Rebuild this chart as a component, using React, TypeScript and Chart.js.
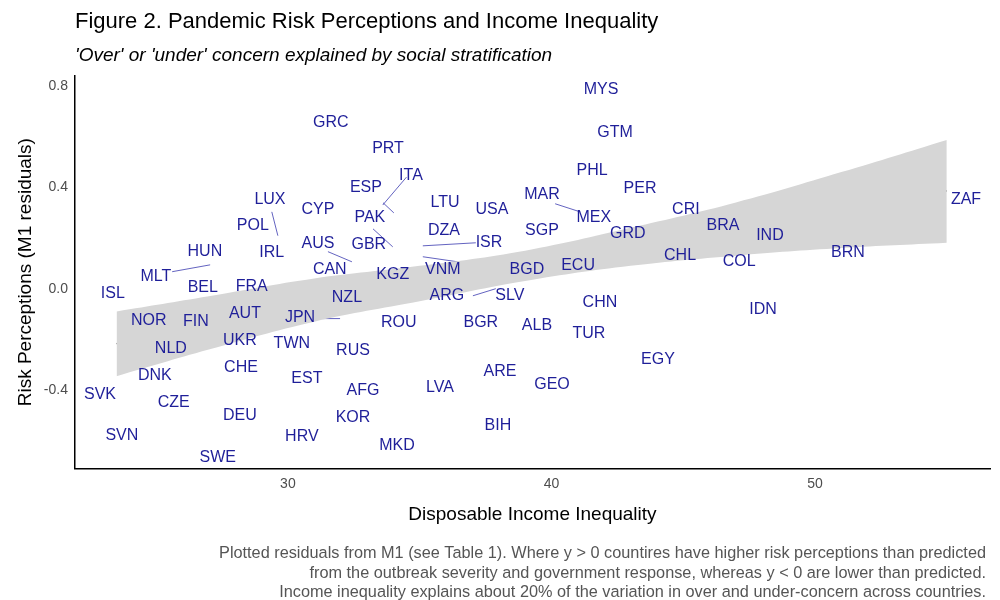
import React, { useEffect, useRef } from "react";
import { Chart, registerables } from "chart.js";
Chart.register(...registerables);

const countries = ["MYS","GRC","PRT","GTM","ITA","PHL","ESP","PER","LUX","MAR","CYP","LTU","USA","MEX","CRI","PAK","POL","DZA","SGP","ZAF","BRA","GRD","IND","AUS","GBR","ISR","IRL","HUN","BRN","CHL","COL","ECU","CAN","VNM","BGD","KGZ","MLT","FRA","BEL","ISL","ARG","SLV","NZL","CHN","IDN","AUT","NOR","FIN","JPN","BGR","ROU","ALB","TUR","UKR","TWN","NLD","RUS","EGY","CHE","ARE","DNK","EST","GEO","LVA","AFG","SVK","CZE","DEU","KOR","BIH","HRV","SVN","MKD","SWE"];
const inequality = [41.88,31.63,33.80,42.41,34.67,41.54,32.96,43.36,29.32,39.64,31.14,35.96,37.74,41.61,45.10,33.11,28.67,35.92,39.64,55.73,46.51,42.90,48.29,31.14,33.07,37.63,29.39,26.85,51.25,44.88,47.12,41.01,31.59,35.88,39.07,33.98,24.99,28.63,26.77,23.36,36.03,38.42,32.24,41.84,48.03,28.37,24.72,26.51,30.46,37.32,34.21,39.45,41.42,28.18,30.15,25.56,32.47,44.04,28.22,38.05,24.95,30.72,40.02,35.77,32.85,22.87,25.67,28.18,32.47,37.97,30.53,23.70,34.14,27.34];
const residuals = [0.787,0.657,0.551,0.614,0.445,0.465,0.398,0.394,0.350,0.370,0.311,0.339,0.311,0.280,0.311,0.280,0.248,0.228,0.228,0.350,0.248,0.217,0.209,0.177,0.173,0.181,0.142,0.146,0.142,0.130,0.106,0.091,0.075,0.075,0.075,0.055,0.047,0.008,0.004,-0.020,-0.028,-0.028,-0.035,-0.055,-0.083,-0.098,-0.126,-0.130,-0.114,-0.134,-0.134,-0.146,-0.177,-0.205,-0.217,-0.236,-0.244,-0.280,-0.311,-0.327,-0.343,-0.354,-0.378,-0.390,-0.402,-0.417,-0.449,-0.500,-0.508,-0.539,-0.583,-0.579,-0.618,-0.665];

const fitX = [23.5, 55.0];
const fitY = [-0.217, 0.386];
const bandX = [23.5, 27, 31, 35, 39, 43, 47, 51, 55];
const bandUpper = [-0.09, -0.03, 0.04, 0.09, 0.15, 0.24, 0.34, 0.46, 0.587];
const bandLower = [-0.345, -0.24, -0.13, -0.05, 0.03, 0.09, 0.13, 0.16, 0.181];
// repel segments: [x1, y1, x2, y2]
const segments = [
  [25.61,0.067,27.05,0.094],[29.39,0.303,29.62,0.209],[33.61,0.339,34.02,0.299],
  [33.23,0.236,33.98,0.165],[31.52,0.146,32.43,0.106],[37.13,0.181,35.12,0.169],
  [35.12,0.126,38.23,0.079],[37.02,-0.028,37.89,0.0],[40.14,0.335,41.09,0.303],
  [31.14,-0.118,31.98,-0.118],[34.50,0.440,33.60,0.330],
];
const xTicks = [30, 40, 50];
const yTicks = [-0.4, 0.0, 0.4, 0.8];

const title = "Figure 2. Pandemic Risk Perceptions and Income Inequality";
const subtitle = "'Over' or 'under' concern explained by social stratification";
const caption = [
  "Plotted residuals from M1 (see Table 1). Where y > 0 countires have higher risk perceptions than predicted",
  "from the outbreak severity and government response, whereas y < 0 are lower than predicted.",
  "Income inequality explains about 20% of the variation in over and under-concern across countries.",
];

const FONT = "'Liberation Sans', Arial, sans-serif";
const LABEL = "#1f1f99";

export default function App() {
  const ref = useRef<HTMLCanvasElement>(null);
  useEffect(() => {
    const textPlugin = {
      id: "txt",
      afterDatasetsDraw(chart: any) {
        const ctx = chart.ctx;
        const xs = chart.scales.x, ys = chart.scales.y;
        ctx.save();
        ctx.font = `16px ${FONT}`;
        ctx.fillStyle = LABEL;
        ctx.textAlign = "center";
        ctx.textBaseline = "middle";
        countries.forEach((c, i) => {
          ctx.fillText(c, xs.getPixelForValue(inequality[i]), ys.getPixelForValue(residuals[i]));
        });
        ctx.restore();
      },
      afterDraw(chart: any) {
        const ctx = chart.ctx;
        ctx.save();
        ctx.fillStyle = "#000";
        ctx.textAlign = "left";
        ctx.textBaseline = "alphabetic";
        ctx.font = `22px ${FONT}`;
        ctx.fillText(title, 75, 28);
        ctx.font = `italic 19px ${FONT}`;
        ctx.fillText(subtitle, 75, 61);
        ctx.fillStyle = "#555";
        ctx.font = `16.3px ${FONT}`;
        ctx.textAlign = "right";
        caption.forEach((l, i) => ctx.fillText(l, 986, 558 + i * 19.5));
        ctx.restore();
      },
    };
    const lineDs = (data: any[], color: string, width: number, extra: any = {}) => ({
      type: "line", showLine: true, data, borderColor: color, borderWidth: width, pointRadius: 0, fill: false, ...extra,
    });
    const chart = new Chart(ref.current!, {
      type: "scatter",
      data: {
        datasets: [
          lineDs(bandX.map((x, i) => ({ x, y: bandLower[i] })), "rgba(0,0,0,0)", 0, { tension: 0.4 }),
          lineDs(bandX.map((x, i) => ({ x, y: bandUpper[i] })), "rgba(0,0,0,0)", 0, { fill: "-1", backgroundColor: "#d6d6d6", tension: 0.4 }),
          lineDs(fitX.map((x, i) => ({ x, y: fitY[i] })), "#555", 1.2),
          ...segments.map((s) => lineDs([{ x: s[0], y: s[1] }, { x: s[2], y: s[3] }], "#3b3bb0", 0.8)),
        ] as any,
      },
      options: {
        animation: false,
        responsive: false,
        parsing: false as any,
        layout: { padding: { top: 76, left: 10, right: 10, bottom: 70 } },
        plugins: { legend: { display: false }, tooltip: { enabled: false } },
        scales: {
          x: {
            type: "linear", min: 21.92, max: 56.64,
            grid: { display: false, drawTicks: true, tickLength: 4 },
            border: { color: "#000", width: 1.5 },
            afterBuildTicks: (ax: any) => { ax.ticks = xTicks.map((v) => ({ value: v })); },
            ticks: { color: "#4d4d4d", font: { size: 14, family: FONT }, padding: 3 },
            title: { display: true, text: "Disposable Income Inequality", color: "#000", font: { size: 19, family: FONT }, padding: { top: 8 } },
          },
          y: {
            type: "linear", min: -0.709, max: 0.839,
            grid: { display: false, tickLength: 4 },
            border: { color: "#000", width: 1.5 },
            afterBuildTicks: (ax: any) => { ax.ticks = yTicks.map((v) => ({ value: v })); },
            ticks: { color: "#4d4d4d", font: { size: 14, family: FONT }, callback: (v: any) => Number(v).toFixed(1) },
            title: { display: true, text: "Risk Perceptions (M1 residuals)", color: "#000", font: { size: 19, family: FONT } },
          },
        },
      },
      plugins: [textPlugin],
    } as any);
    return () => chart.destroy();
  }, []);
  return (
    <div style={{ position: "fixed", left: 0, top: 0, width: 1000, height: 600, background: "#fff" }}>
      <canvas ref={ref} width={1000} height={600} />
    </div>
  );
}
